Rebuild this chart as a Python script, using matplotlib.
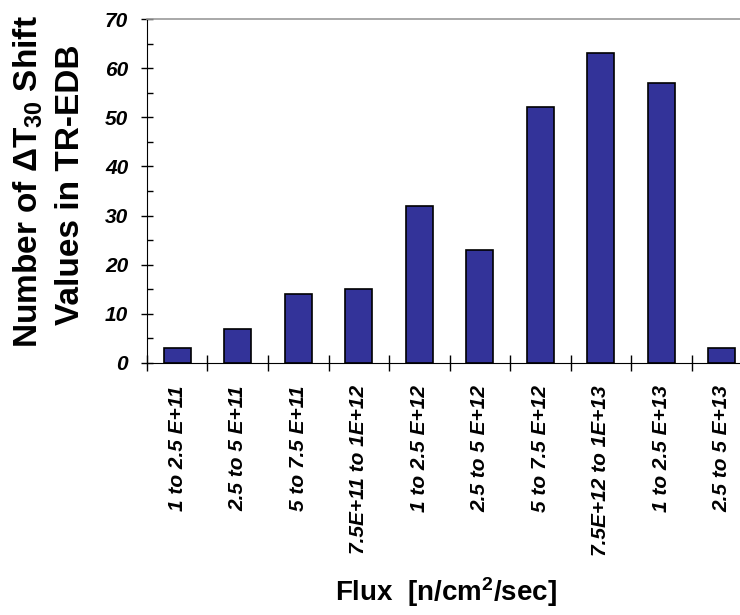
import matplotlib
matplotlib.use('Agg')
import matplotlib.pyplot as plt
from matplotlib.ticker import MultipleLocator

# flux bins and number of shift values per bin
bins = ['1 to 2.5 E+11', '2.5 to 5 E+11', '5 to 7.5 E+11', '7.5E+11 to 1E+12',
        '1 to 2.5 E+12', '2.5 to 5 E+12', '5 to 7.5 E+12', '7.5E+12 to 1E+13',
        '1 to 2.5 E+13', '2.5 to 5 E+13']
counts = [3, 7, 14, 15, 32, 23, 52, 63, 57, 3]
y_ticks = [0, 10, 20, 30, 40, 50, 60, 70]

plt.rcParams['font.family'] = ['Liberation Sans', 'DejaVu Sans']
plt.rcParams['mathtext.fontset'] = 'custom'
plt.rcParams['mathtext.rm'] = 'Liberation Sans:bold'
plt.rcParams['mathtext.it'] = 'Liberation Sans:bold'
plt.rcParams['mathtext.bf'] = 'Liberation Sans:bold'

fig = plt.figure(figsize=(7.4, 6.15), dpi=100)
ax = fig.add_axes([0.1986, 0.4098, 0.8014, 0.5593])

x = list(range(len(bins)))
ax.bar(x, counts, width=0.45, color='#333399', edgecolor='black', linewidth=1.2)

ax.set_xlim(-0.5, 9.3)
ax.set_ylim(0, 70)
ax.set_yticks(y_ticks)
ax.set_yticklabels([str(v) for v in y_ticks], fontsize=15, fontweight='bold', fontstyle='italic')
ax.yaxis.set_minor_locator(MultipleLocator(5))

# category labels sit under the bars, ticks mark the bin boundaries
ax.set_xticks([i - 0.5 for i in x])
ax.set_xticklabels([])
for i, lab in enumerate(bins):
    ax.text(i, -4.5, lab, rotation=90, ha='center', va='top', fontsize=15,
            fontweight='bold', fontstyle='italic')

ax.tick_params(axis='x', direction='inout', length=11, width=1)
ax.tick_params(axis='y', which='major', direction='inout', length=9, width=1, pad=9)
ax.tick_params(axis='y', which='minor', direction='in', length=4, width=1)

ax.spines['right'].set_visible(False)
ax.spines['top'].set_color('#999999')
ax.spines['top'].set_linewidth(1.2)

fig.text(0.038, 0.705, 'Number of $\\Delta$T$_{30}$ Shift', rotation=90,
         ha='center', va='center', fontsize=24, fontweight='bold')
fig.text(0.095, 0.70, 'Values in TR-EDB', rotation=90,
         ha='center', va='center', fontsize=24, fontweight='bold')
fig.text(0.603, 0.022, 'Flux  [n/cm$^2$/sec]', ha='center', va='baseline',
         fontsize=20, fontweight='bold')

fig.savefig('out.png', dpi=100)
